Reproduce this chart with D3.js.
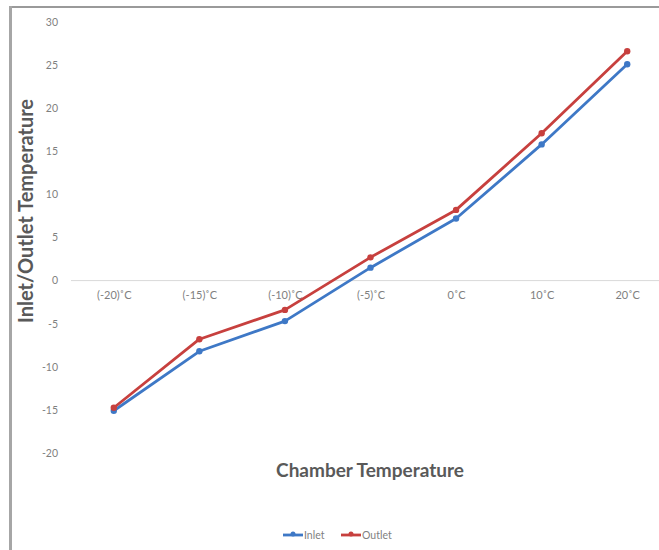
<!DOCTYPE html>
<html>
<head>
<meta charset="utf-8">
<script src="https://cdn.jsdelivr.net/npm/d3@7"></script>
<style>
  html, body { margin: 0; padding: 0; background: #fff; }
  svg { display: block; font-family: Lato, "Open Sans", sans-serif; }
</style>
</head>
<body>
<svg id="chart" width="659" height="550"></svg>
<script>
// Chamber temperature settings and measured inlet/outlet temperatures
const categories = ["(-20)˚C", "(-15)˚C", "(-10)˚C", "(-5)˚C", "0˚C", "10˚C", "20˚C"];
const inletValues = [-15.1, -8.2, -4.7, 1.5, 7.2, 15.8, 25.1];
const outletValues = [-14.75, -6.8, -3.4, 2.7, 8.2, 17.1, 26.6];
const yTicks = [30, 25, 20, 15, 10, 5, 0, -5, -10, -15, -20];
const seriesNames = ["Inlet", "Outlet"];
const seriesColors = ["#3e78c6", "#c7403e"];

const svg = d3.select("#chart");
const W = 659, H = 550;

// frame
svg.append("line").attr("x1", 10.5).attr("x2", W).attr("y1", 7).attr("y2", 7)
  .attr("stroke", "#9a9a9a").attr("stroke-width", 2);
svg.append("line").attr("x1", 10.5).attr("x2", 10.5).attr("y1", 6).attr("y2", H)
  .attr("stroke", "#a6a6a6").attr("stroke-width", 3);

const plotLeft = 71, plotRight = 670;
const x = d3.scalePoint().domain(categories).range([plotLeft, plotRight]).padding(0.5);
const y = d3.scaleLinear().domain([-20, 30]).range([453, 22]);

// y axis labels (plain hyphen for negatives)
const yAxis = d3.axisLeft(y).tickValues(yTicks).tickSize(0).tickPadding(0)
  .tickFormat(d => String(d));
const yg = svg.append("g").attr("transform", `translate(58,0)`).call(yAxis);
yg.select(".domain").remove();
yg.selectAll("text").attr("fill", "#7f7f7f").style("font-size", "10.5px")
  .style("font-family", "Lato, 'Open Sans', sans-serif");

// horizontal category axis at zero
svg.append("line").attr("x1", plotLeft).attr("x2", W).attr("y1", y(0)).attr("y2", y(0))
  .attr("stroke", "#d9d9d9").attr("stroke-width", 1);

const xAxis = d3.axisBottom(x).tickSize(0).tickPadding(0);
const xg = svg.append("g").attr("transform", `translate(0,${y(0) + 11})`).call(xAxis);
xg.select(".domain").remove();
xg.selectAll("text").attr("fill", "#7f7f7f").style("font-size", "11px")
  .style("font-family", "Lato, 'Open Sans', sans-serif");

// axis titles
svg.append("text")
  .attr("transform", "translate(33,211) rotate(-90)")
  .attr("text-anchor", "middle")
  .attr("fill", "#595959").style("font-size", "20px").style("font-weight", "bold")
  .text("Inlet/Outlet Temperature");
svg.append("text")
  .attr("x", 370).attr("y", 477)
  .attr("text-anchor", "middle")
  .attr("fill", "#595959").style("font-size", "19px").style("font-weight", "bold")
  .text("Chamber Temperature");

// series lines and markers
const series = [inletValues, outletValues];
const line = d3.line().x((d, i) => x(categories[i])).y(d => y(d));
series.forEach((vals, s) => {
  svg.append("path").datum(vals)
    .attr("d", line)
    .attr("fill", "none")
    .attr("stroke", seriesColors[s])
    .attr("stroke-width", 2.8)
    .attr("stroke-linejoin", "round");
  svg.selectAll(null).data(vals).enter().append("circle")
    .attr("cx", (d, i) => x(categories[i]))
    .attr("cy", d => y(d))
    .attr("r", 3.2)
    .attr("fill", seriesColors[s]);
});

// legend
const legendX = [283, 341];
const legend = svg.append("g");
seriesNames.forEach((name, s) => {
  const g = legend.append("g").attr("transform", `translate(${legendX[s]},535)`);
  g.append("line").attr("x1", 0).attr("x2", 20).attr("y1", 0).attr("y2", 0)
    .attr("stroke", seriesColors[s]).attr("stroke-width", 2.8);
  g.append("circle").attr("cx", 10).attr("cy", -1).attr("r", 2.5).attr("fill", seriesColors[s]);
  g.append("text").attr("x", 21).attr("y", 3.5)
    .attr("fill", "#7f7f7f").style("font-size", "10.5px").text(name);
});
</script>
</body>
</html>
